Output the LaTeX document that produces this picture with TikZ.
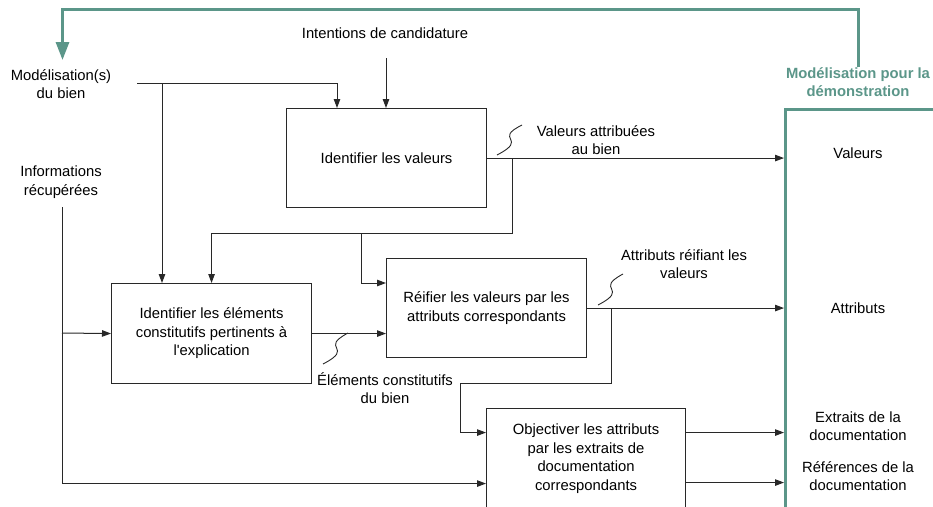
\documentclass[tikz,border=0pt]{standalone}
\usepackage{fontspec}
\setmainfont{Liberation Sans}
\usepackage{textcomp}
\usetikzlibrary{arrows.meta,calc}
\definecolor{teal1}{RGB}{91,150,137}
\definecolor{ln}{RGB}{40,40,40}
\begin{document}
\begin{tikzpicture}[x=1pt,y=-1pt,
  every node/.style={font=\fontsize{14.8}{18.5}\selectfont, align=center, inner sep=0pt},
  proc/.style={draw=ln, line width=1.1pt, anchor=north west, minimum width=200pt, minimum height=100pt},
  arr/.style={draw=ln, line width=1pt, -{Triangle[length=9pt,width=6.5pt]}},
  ln1/.style={draw=ln, line width=1pt},
  sq/.style={draw=ln, line width=0.9pt},
  tealarr/.style={draw=teal1, line width=3pt, -{Triangle[length=18pt,width=13pt]}}
]
\useasboundingbox (0,0) rectangle (933,506);

% right box
\node[draw=teal1, line width=3.2pt, anchor=north west, minimum width=170pt, minimum height=420pt] (R) at (784,108) {};
\node[text=teal1, font=\fontsize{14.8}{18.5}\selectfont\bfseries] (md) at (858,82) {Modélisation pour la\\démonstration};
\node (tv) at (858,153) {Valeurs};
\node (ta) at (858,308) {Attributs};
\node (te) at (858,426) {Extraits de la\\documentation};
\node (tr) at (858,476) {Références de la\\documentation};

% process boxes
\node[proc, minimum height=99pt] (v) at (286,108) {Identifier les valeurs};
\node[proc] (e) at (111,283) {Identifier les éléments\\constitutifs pertinents à\\l\textquotesingle explication};
\node[proc, minimum height=99pt] (r) at (386,258) {Réifier les valeurs par les\\attributs correspondants};
\node[proc, minimum width=199pt] (o) at (486,408) {Objectiver les attributs\\par les extraits de\\documentation\\correspondants};

% inputs
\node (mod) at (61,84) {Modélisation(s)\\du bien};
\node (inf) at (61,182) {Informations\\récupérées};
\node (int) at (385,33) {Intentions de candidature};

% labels
\node (lv) at (596,140) {Valeurs attribuées\\au bien};
\node (le) at (385,388) {Éléments constitutifs\\du bien};
\node (la) at (684,264) {Attributs réifiant les\\valeurs};

% teal feedback
\draw[tealarr] (md.north) -- (md.north |- 0,9) -| (62.5,60);

% intentions
\coordinate (i0) at (386,58);
\draw[arr] (i0) -- (i0 |- v.north);

% modelisation
\coordinate (m0) at (137,83);
\coordinate (m1) at (162,83);
\draw[arr] (m0) -| ($(v.north west)+(51,0)$);
\draw[arr] (m1) -- (m1 |- e.north);

% informations
\coordinate (f0) at (62,207);
\coordinate (f1) at (62,333);
\draw[arr] (f0) |- ($(o.west)+(0,25)$);
\draw[arr] (f1) -- (e.west);

% box v outputs
\draw[arr] (v.east) -- (v.east -| R.west);
\coordinate (b1) at ($(v.east)+(25,0)$);
\coordinate (b2) at (361,233);
\draw[arr] (b1) -- ++(0,75.5) -| (e.north);
\draw[arr] (b2) |- ($(r.north west)+(0,25)$);

% box e output
\draw[arr] (e.east) -- (e.east -| r.west);

% box r outputs
\draw[arr] (r.east) -- (r.east -| R.west);
\coordinate (b3) at ($(r.east)+(24,0)$);
\coordinate (c1) at (460,383);
\draw[arr] (b3) |- (c1) |- ($(o.west)+(0,-26)$);

% box o outputs
\coordinate (o1) at ($(o.east)+(0,-26)$);
\coordinate (o2) at ($(o.east)+(0,24)$);
\draw[arr] (o1) -- (o1 -| R.west);
\draw[arr] (o2) -- (o2 -| R.west);

% squiggles
\draw[sq] (497,155) .. controls (530,138) and (492,140) .. (522,125);
\draw[sq] (323,364) .. controls (356,347) and (318,349) .. (348,333);
\draw[sq] (598,305) .. controls (631,288) and (593,290) .. (623,274);
\end{tikzpicture}
\end{document}
